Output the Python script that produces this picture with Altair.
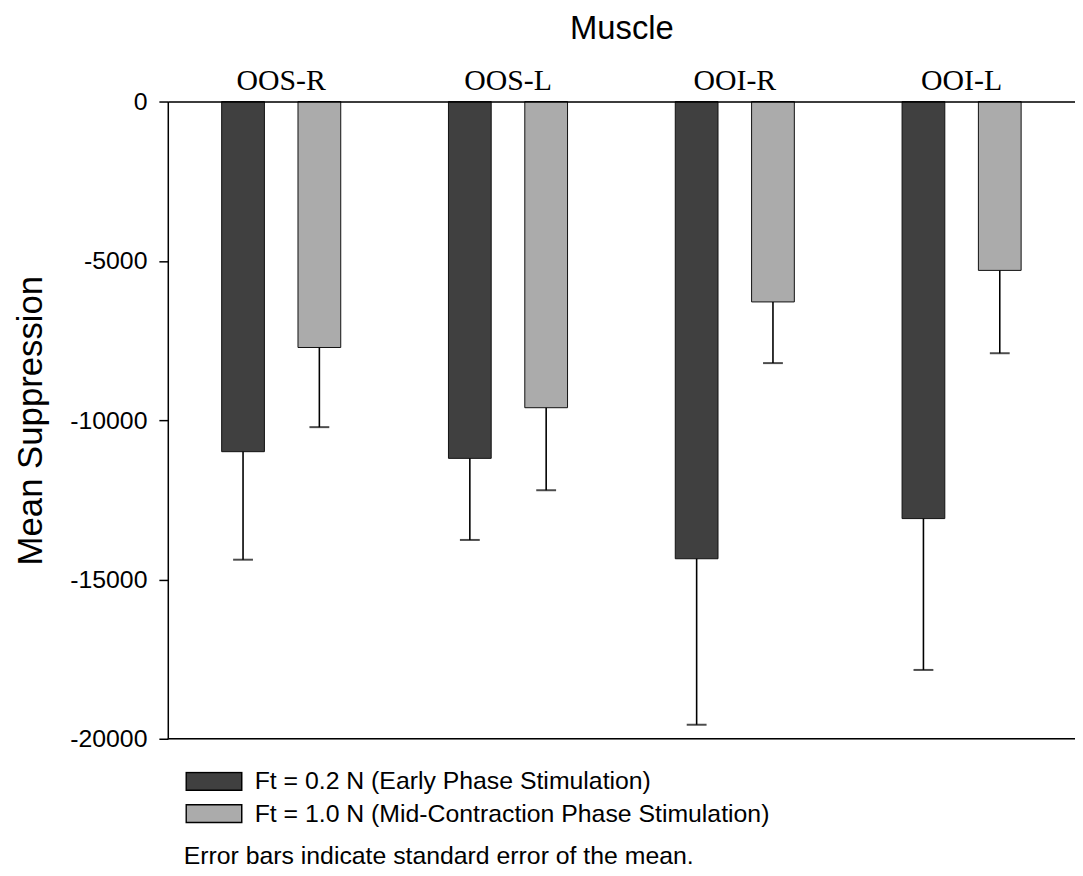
import altair as alt
import pandas as pd

muscles = ["OOS-R", "OOS-L", "OOI-R", "OOI-L"]
series = ["Ft = 0.2 N (Early Phase Stimulation)", "Ft = 1.0 N (Mid-Contraction Phase Stimulation)"]
early_mean = [-10990, -11200, -14350, -13090]
early_se = [3390, 2560, 5210, 4750]
mid_mean = [-7720, -9610, -6290, -5300]
mid_se = [2500, 2590, 1920, 2600]
y_ticks = [0, -5000, -10000, -15000, -20000]
colors = ["#404040", "#ababab"]
note = "Error bars indicate standard error of the mean."

rows = []
for i, m in enumerate(muscles):
    rows.append({"muscle": m, "group": series[0], "mean": early_mean[i], "low": early_mean[i] - early_se[i]})
    rows.append({"muscle": m, "group": series[1], "mean": mid_mean[i], "low": mid_mean[i] - mid_se[i]})
df = pd.DataFrame(rows)

SANS = "Liberation Sans"
SERIF = "Liberation Serif"

x_enc = alt.X("muscle:N", sort=muscles,
              scale=alt.Scale(paddingInner=0.475, paddingOuter=0.2375),
              axis=alt.Axis(orient="top", title="Muscle", labelAngle=0,
                            labelFont=SERIF, labelFontSize=30, labelColor="black",
                            ticks=False, tickSize=0, labelPadding=6,
                            titleFont=SANS, titleFontSize=33, titleFontWeight="normal",
                            titleColor="black", titlePadding=20,
                            domainColor="black", domainWidth=1.5, zindex=1))
xo_enc = alt.XOffset("group:N", sort=series, scale=alt.Scale(paddingInner=0.44, paddingOuter=0))
y_scale = alt.Scale(domain=[-20000, 0], nice=False)

base = alt.Chart(df)

bars = base.mark_bar(stroke="#111111", strokeWidth=1).encode(
    x=x_enc,
    xOffset=xo_enc,
    y=alt.Y("mean:Q", scale=y_scale,
            axis=alt.Axis(values=y_ticks, labelExpr="'' + datum.value", grid=False,
                          title="Mean Suppression", titleFont=SANS, titleFontSize=35,
                          titleFontWeight="normal", titleColor="black", titlePadding=21,
                          labelFont=SANS, labelFontSize=25, labelColor="black",
                          labelPadding=12, tickSize=9, tickWidth=1.5, tickColor="black",
                          domainColor="black", domainWidth=1.5, zindex=1)),
    fill=alt.Fill("group:N", sort=series,
                  scale=alt.Scale(domain=series, range=colors),
                  legend=alt.Legend(title=None, orient="none", legendX=17.5, legendY=675,
                                    symbolType="M-1,-0.32L1,-0.32L1,0.32L-1,0.32Z",
                                    symbolSize=3136, symbolStrokeColor="black",
                                    symbolStrokeWidth=1.5, symbolOpacity=1,
                                    labelFont=SANS, labelFontSize=25, labelColor="black",
                                    labelOffset=12, clipHeight=20, rowPadding=7.5,
                                    padding=0, labelLimit=800)),
)

err = base.mark_rule(color="black", strokeWidth=1.6).encode(
    x=alt.X("muscle:N", sort=muscles),
    xOffset=alt.XOffset("group:N", sort=series),
    y=alt.Y("low:Q"),
    y2="mean:Q",
)

caps = base.mark_tick(color="black", thickness=2, size=20, orient="horizontal").encode(
    x=alt.X("muscle:N", sort=muscles),
    xOffset=alt.XOffset("group:N", sort=series),
    y=alt.Y("low:Q"),
)

bottom_line = alt.Chart(pd.DataFrame({"v": [y_ticks[-1]]})).mark_rule(
    color="black", strokeWidth=1.5).encode(
    y=alt.Y("v:Q"), x=alt.value(0), x2=alt.value(914))

note_text = alt.Chart(pd.DataFrame({"t": [note]})).mark_text(
    align="left", baseline="alphabetic", font=SANS, fontSize=25, color="black").encode(
    text="t:N", x=alt.value(16), y=alt.value(768.5))

chart = alt.layer(bars, err, caps, bottom_line, note_text).properties(
    width=914, height=642,
    autosize=alt.AutoSizeParams(type="none"),
    padding={"left": 161, "top": 91, "right": 0, "bottom": 129},
).configure_view(stroke=None).configure(background="white")

chart.save("out.html", embed_options={"renderer": "svg", "actions": False})
